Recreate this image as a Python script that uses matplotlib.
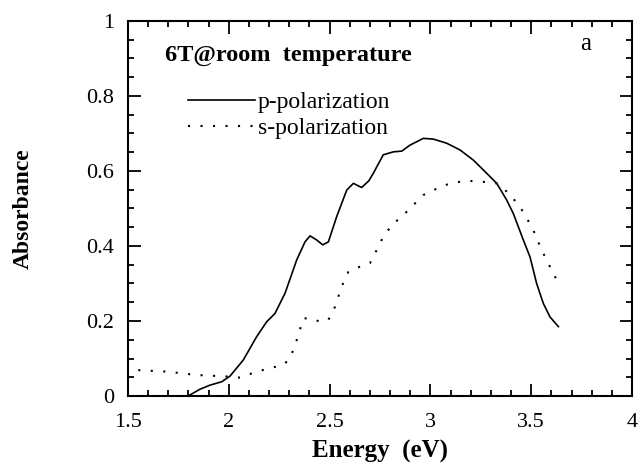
import matplotlib
matplotlib.use("Agg")
import matplotlib.pyplot as plt

plt.rcParams['font.family'] = ['Liberation Serif', 'DejaVu Serif']

# --- data ---
p_energy = [1.798, 1.857, 1.907, 1.965, 2.006, 2.072, 2.138, 2.188, 2.229, 2.279,
            2.337, 2.378, 2.403, 2.436, 2.466, 2.494, 2.535, 2.585, 2.618, 2.659,
            2.695, 2.717, 2.766, 2.816, 2.858, 2.899, 2.965, 3.015, 3.081, 3.147,
            3.213, 3.279, 3.329, 3.378, 3.411, 3.461, 3.494, 3.527, 3.560, 3.593, 3.635]
p_absorb = [0.000, 0.018, 0.029, 0.038, 0.053, 0.096, 0.158, 0.198, 0.220, 0.274,
            0.363, 0.411, 0.427, 0.416, 0.403, 0.411, 0.478, 0.549, 0.567, 0.556,
            0.574, 0.594, 0.643, 0.651, 0.653, 0.669, 0.687, 0.685, 0.674, 0.656,
            0.629, 0.594, 0.567, 0.523, 0.487, 0.416, 0.371, 0.300, 0.247, 0.211, 0.185]

s_energy = [1.551, 1.692, 1.841, 1.990, 2.056, 2.138, 2.204, 2.270, 2.304, 2.337,
            2.370, 2.411, 2.452, 2.494, 2.527, 2.560, 2.593, 2.651, 2.700, 2.717,
            2.758, 2.808, 2.858, 2.915, 2.965, 3.015, 3.097, 3.180, 3.262, 3.329,
            3.395, 3.461, 3.510, 3.552, 3.593, 3.635]
s_absorb = [0.069, 0.065, 0.056, 0.052, 0.049, 0.065, 0.074, 0.083, 0.100, 0.149,
            0.207, 0.207, 0.198, 0.203, 0.238, 0.292, 0.331, 0.345, 0.354, 0.371,
            0.416, 0.456, 0.478, 0.509, 0.536, 0.549, 0.567, 0.574, 0.571, 0.567,
            0.538, 0.491, 0.443, 0.389, 0.345, 0.300]

x_ticks = [1.5, 2, 2.5, 3, 3.5, 4]
x_ticklabels = ['1.5', '2', '2.5', '3', '3.5', '4']
y_ticks = [0, 0.2, 0.4, 0.6, 0.8, 1]
y_ticklabels = ['0', '0.2', '0.4', '0.6', '0.8', '1']

fig = plt.figure(figsize=(6.38, 4.63), dpi=100)
ax = fig.add_axes([0.2006, 0.1447, 0.79, 0.81])

ax.plot(p_energy, p_absorb, color='black', lw=1.2, label='p-polarization')
ax.plot(s_energy, s_absorb, color='black', lw=1.5, linestyle=(0, (1, 5)),
        label='s-polarization')

ax.set_xlim(1.5, 4)
ax.set_ylim(0, 1)
ax.set_xticks(x_ticks)
ax.set_xticklabels(x_ticklabels)
ax.set_xticks([1.5 + 0.1 * i for i in range(26)], minor=True)
ax.set_yticks(y_ticks)
ax.set_yticklabels(y_ticklabels)
ax.set_yticks([0.05 * i for i in range(21)], minor=True)

ax.tick_params(which='both', direction='in', top=True, right=True, width=1.3)
ax.tick_params(which='major', length=9, labelsize=16)
ax.tick_params(axis='x', which='major', pad=12)
ax.tick_params(axis='y', which='major', pad=10)
ax.tick_params(which='minor', length=4.5)
for s in ax.spines.values():
    s.set_linewidth(1.5)

ax.set_xlabel('Energy  (eV)', fontsize=18, fontweight='bold')
ax.set_ylabel('Absorbance', fontsize=17, fontweight='bold')
ax.xaxis.set_label_coords(0.5, -0.118)
ax.yaxis.set_label_coords(-0.186, 0.5)

ax.text(0.073, 0.909, '6T@room  temperature', transform=ax.transAxes,
        fontsize=17.5, fontweight='bold', va='center', ha='left')
ax.text(0.907, 0.939, 'a', transform=ax.transAxes, fontsize=18,
        va='center', ha='center')

ax.legend(loc='upper left', bbox_to_anchor=(0.12, 0.812), frameon=False,
          fontsize=17, handlelength=2.8, handletextpad=0.15, labelspacing=0.2,
          borderpad=0, borderaxespad=0)

plt.savefig('out.png', dpi=100)
